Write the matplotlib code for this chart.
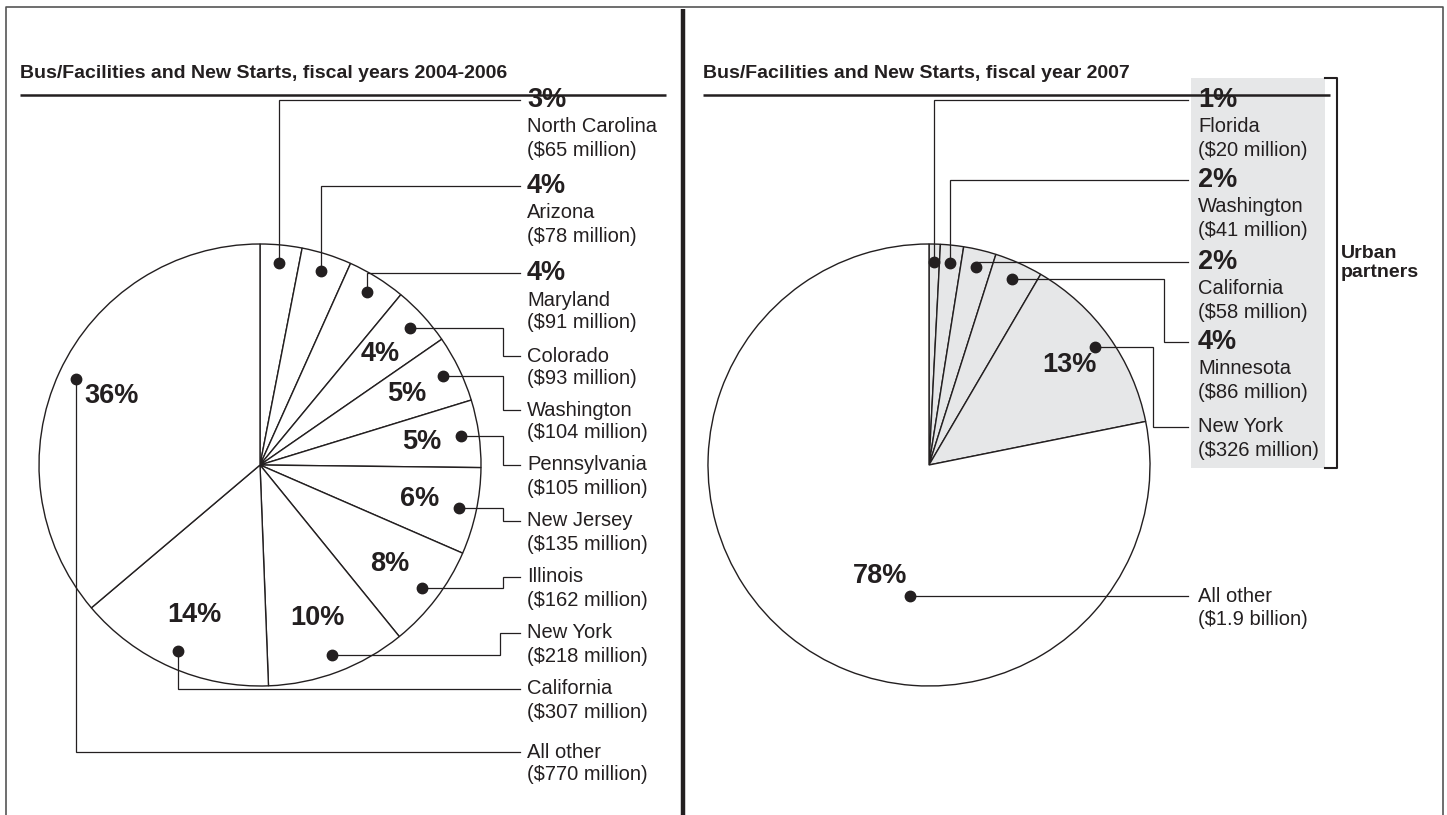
import matplotlib.pyplot as plt
from matplotlib.patches import Rectangle
import numpy as np

plt.rcParams['font.family'] = ['Liberation Sans', 'DejaVu Sans']

W, H = 1447, 815
INK = '#231f20'
SHADE = '#e6e7e8'
R = 221

# fiscal years 2004-2006
left_names = ['North Carolina', 'Arizona', 'Maryland', 'Colorado', 'Washington',
              'Pennsylvania', 'New Jersey', 'Illinois', 'New York', 'California',
              'All other']
left_millions = [65, 78, 91, 93, 104, 105, 135, 162, 218, 307, 770]
left_pcts = [3, 4, 4, 4, 5, 5, 6, 8, 10, 14, 36]
left_amounts = ['($65 million)', '($78 million)', '($91 million)', '($93 million)',
                '($104 million)', '($105 million)', '($135 million)',
                '($162 million)', '($218 million)', '($307 million)',
                '($770 million)']

# fiscal year 2007
right_names = ['Florida', 'Washington', 'California', 'Minnesota', 'New York',
               'All other']
right_millions = [20, 41, 58, 86, 326, 1900]
right_pcts = [1, 2, 2, 4, 13, 78]
right_amounts = ['($20 million)', '($41 million)', '($58 million)',
                 '($86 million)', '($326 million)', '($1.9 billion)']
urban_partner = [True, True, True, True, True, False]

PCT_FS = 19.5
LAB_FS = 14.5

fig = plt.figure(figsize=(W / 100, H / 100), dpi=100)
ax = fig.add_axes([0, 0, 1, 1])


def Y(py):
    return H - py


def draw_pie(values, colors, cx, cy):
    wedges, _ = ax.pie(values, colors=colors, startangle=90, counterclock=False,
                       center=(cx, Y(cy)), radius=R, frame=True,
                       wedgeprops=dict(edgecolor=INK, linewidth=1.0))
    return wedges


def polar(w, frac, ang=None):
    a = np.deg2rad((w.theta1 + w.theta2) / 2 if ang is None else ang)
    return w.center[0] + frac * w.r * np.cos(a), w.center[1] + frac * w.r * np.sin(a)


def leader(dot, ly, end_x, elbow_x=None):
    dx, dy = dot
    if ly is None:
        xs, ys = [dx, end_x], [dy, dy]
    elif elbow_x is None:
        xs, ys = [dx, dx, end_x], [dy, Y(ly), Y(ly)]
    else:
        xs, ys = [dx, elbow_x, elbow_x, end_x], [dy, dy, Y(ly), Y(ly)]
    ax.plot(xs, ys, color=INK, lw=0.9, solid_joinstyle='miter')
    ax.plot(dx, dy, 'o', ms=7.5, color=INK)


def label_block(x, y, pct, name, amount):
    if pct is not None:
        ax.text(x, Y(y), f'{pct}%', fontsize=PCT_FS, fontweight='bold',
                va='center', color=INK)
        y += 27
    ax.text(x, Y(y), name, fontsize=LAB_FS, va='center', color=INK)
    ax.text(x, Y(y + 23), amount, fontsize=LAB_FS, va='center', color=INK)


# frame
ax.plot([6, 6, 1443, 1443], [0, Y(7), Y(7), 0], color='#555555', lw=1.2)
ax.plot([683, 683], [0, Y(9)], color=INK, lw=3.2, solid_capstyle='butt')

# titles
for tx, x1, title in [(20, 666, 'Bus/Facilities and New Starts, fiscal years 2004-2006'),
                      (703, 1330, 'Bus/Facilities and New Starts, fiscal year 2007')]:
    ax.text(tx, Y(73), title, fontsize=14, fontweight='bold', va='center', color=INK)
    ax.plot([tx, x1], [Y(95), Y(95)], color=INK, lw=1.8, solid_capstyle='butt')

# ---- left pie
lw = draw_pie(left_millions, ['white'] * len(left_millions), 260, 465)
left_ly = [100, 186, 273, 356, 410, 465, 521, 577, 633, 689, 752]
left_elbow = [None, None, None, 503, 503, 503, 503, 503, 500, None, None]
for i, w in enumerate(lw):
    leader(polar(w, 0.92), left_ly[i], 520, left_elbow[i])
    if i < 3:
        label_block(527, left_ly[i], left_pcts[i], left_names[i], left_amounts[i])
    else:
        label_block(527, left_ly[i], None, left_names[i], left_amounts[i])
        tx, ty = polar(w, 0.74)
        ax.text(tx, ty, f'{left_pcts[i]}%', fontsize=PCT_FS, fontweight='bold',
                ha='center', va='center', color=INK)

# ---- right pie
ax.add_patch(Rectangle((1191, Y(468)), 134, 390, facecolor=SHADE, edgecolor='none'))
ax.plot([1325, 1337, 1337, 1325], [Y(78), Y(78), Y(468), Y(468)], color=INK, lw=1.5)
ax.text(1341, Y(263), 'Urban\npartners', fontsize=14, fontweight='bold',
        va='center', ha='left', color=INK, linespacing=1.1)

rw = draw_pie(right_millions, [SHADE if u else 'white' for u in urban_partner], 929, 465)
right_ly = [100, 180, 262, 342, 427, None]
right_elbow = [None, None, None, 1164, 1153, None]
for i, w in enumerate(rw):
    if i < 5:
        leader(polar(w, 0.92), right_ly[i], 1188, right_elbow[i])
    if i < 4:
        label_block(1198, right_ly[i], right_pcts[i], right_names[i], right_amounts[i])
    elif i == 4:
        label_block(1198, right_ly[i], None, right_names[i], right_amounts[i])
        tx, ty = polar(w, 0.78)
        ax.text(tx, ty, f'{right_pcts[i]}%', fontsize=PCT_FS, fontweight='bold',
                ha='center', va='center', color=INK)
    else:
        dot = polar(w, 0.60, 261.8)
        leader(dot, None, 1188)
        ax.text(1198, dot[1], right_names[i], fontsize=LAB_FS, va='center', color=INK)
        ax.text(1198, dot[1] - 23, right_amounts[i], fontsize=LAB_FS, va='center', color=INK)
        tx, ty = polar(w, 0.55, 246.2)
        ax.text(tx, ty, f'{right_pcts[i]}%', fontsize=PCT_FS, fontweight='bold',
                ha='center', va='center', color=INK)

ax.set_xlim(0, W)
ax.set_ylim(0, H)
ax.set_aspect('auto')
ax.axis('off')
fig.savefig('out.png', dpi=100)
